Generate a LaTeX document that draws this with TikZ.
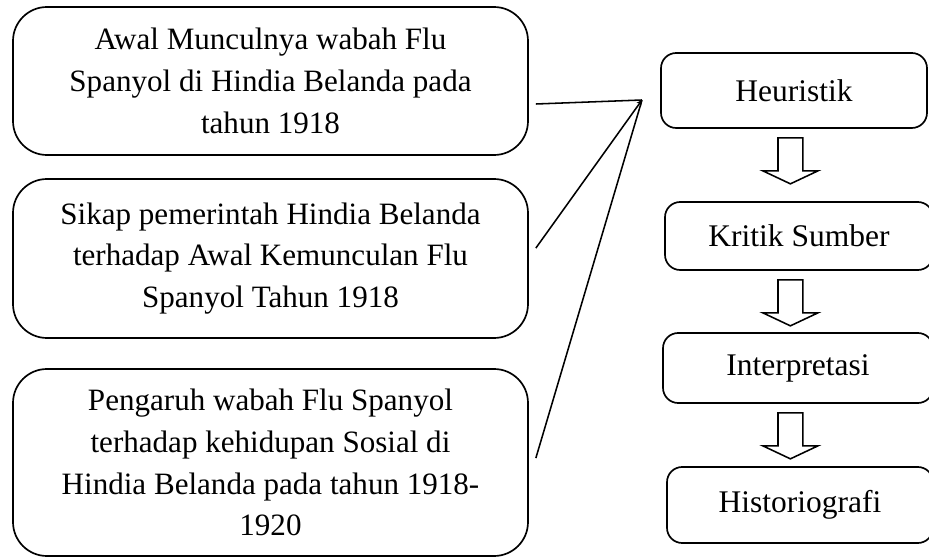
\documentclass[tikz,border=0pt]{standalone}
\usepackage{fontspec}
\setmainfont{Liberation Serif}
\usetikzlibrary{calc,arrows.meta}
\tikzset{
  topik/.style={draw,line width=1.2pt,rounded corners=0.85cm,minimum width=12.875cm,
    align=center,inner sep=0pt,font=\fontsize{22.1}{29.8}\selectfont},
  tahap/.style={draw,line width=1.2pt,rounded corners=0.38cm,align=center,
    inner sep=0pt,font=\fontsize{22.4}{29.8}\selectfont},
  panah/.style={draw,line width=1.1pt,fill=white,line join=miter},
  garis/.style={line width=1.1pt},
}
\begin{document}
\begin{tikzpicture}
\useasboundingbox (0,0) rectangle (23.225,-13.95);
% kotak topik (kiri)
\node[topik,minimum height=3.7cm] (awal) at (6.7625,-2.025)
  {Awal Munculnya wabah Flu\\Spanyol di Hindia Belanda pada\\tahun 1918};
\node[topik,minimum height=3.975cm] (sikap) at (6.7625,-6.4625)
  {Sikap pemerintah Hindia Belanda\\terhadap Awal Kemunculan Flu\\Spanyol Tahun 1918};
\node[topik,minimum height=4.675cm] (pengaruh) at (6.7625,-11.5625)
  {Pengaruh wabah Flu Spanyol\\terhadap kehidupan Sosial di\\Hindia Belanda pada tahun 1918-\\1920};
% tahapan metode (kanan)
\node[tahap,minimum width=6.65cm,minimum height=1.875cm] (heur) at (19.85,-2.2625) {Heuristik};
\node[tahap,minimum width=6.7cm,minimum height=1.7cm] (kritik) at (19.975,-5.9) {Kritik Sumber};
\node[tahap,minimum width=6.75cm,minimum height=1.75cm] (interp) at (19.95,-9.2) {Interpretasi};
\node[tahap,minimum width=6.65cm,minimum height=1.9cm] (histo) at (20.0,-12.625) {Historiografi};
% garis menuju heuristik
\coordinate (hub) at (16.05,-2.5);
\draw[garis] ($(awal.east)+(0.175,-0.575)$) -- (hub);
\draw[garis,-{Stealth[length=4pt,width=4pt]}] ($(sikap.east)+(0.175,0.26)$) -- (hub);
\draw[garis] ($(pengaruh.east)+(0.175,0.11)$) -- (hub);
% panah blok antar tahap
\coordinate (ax) at (19.76,0);
\foreach \a in {heur,kritik,interp}{
  \draw[panah,shift={($(\a.south -| ax)+(0,-0.225)$)}]
    (-0.31,0) -- (0.31,0) -- (0.31,-0.825) -- (0.69,-0.825) -- (0,-1.15)
    -- (-0.69,-0.825) -- (-0.31,-0.825) -- cycle;
}
\end{tikzpicture}
\end{document}
